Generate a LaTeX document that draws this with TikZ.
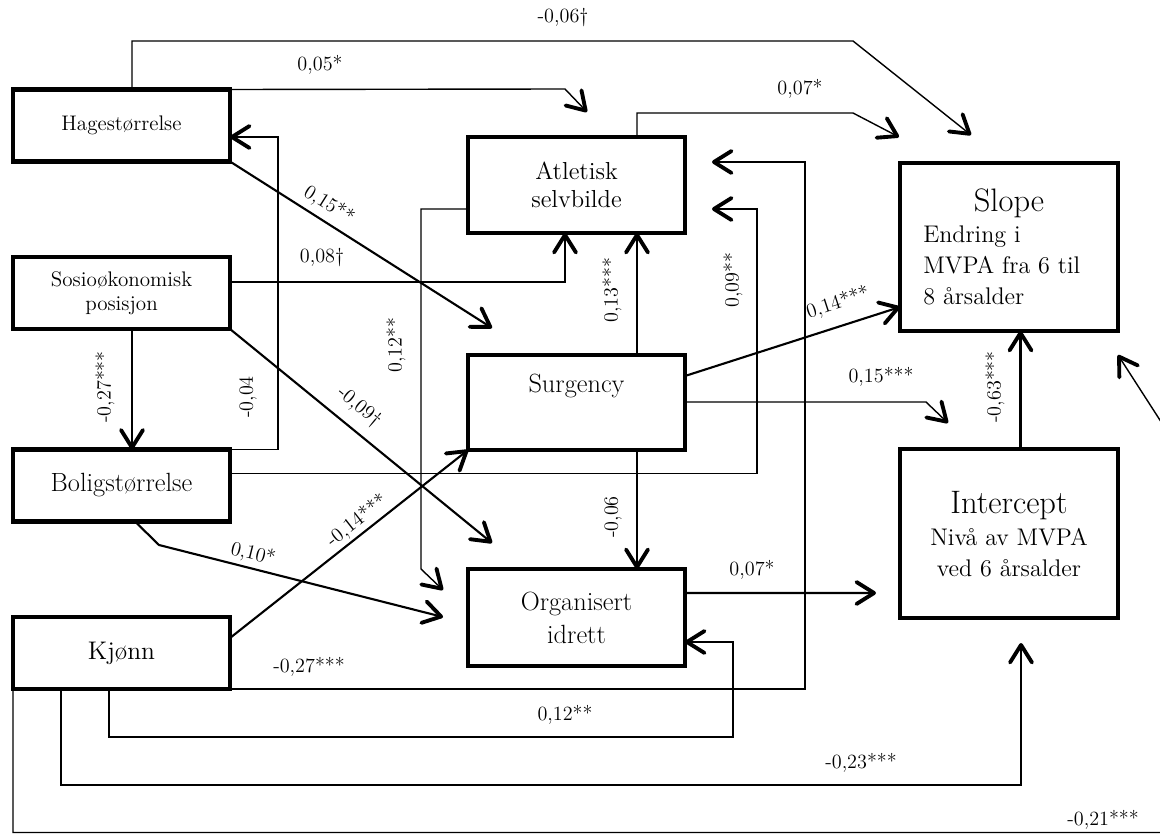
\documentclass[tikz,border=0pt]{standalone}
\usepackage{fontspec}
\usetikzlibrary{arrows.meta,calc}
\begin{document}
\begin{tikzpicture}[x=0.02cm,y=-0.02cm,
  box/.style={draw,line width=2.3pt,inner sep=0pt,outer sep=0pt,align=center},
  smallbox/.style={box,minimum width=4.34cm,minimum height=1.44cm,font=\fontsize{12}{13.7}\selectfont},
  midbox/.style={box,minimum width=4.34cm,minimum height=1.92cm,font=\fontsize{14.5}{17}\selectfont},
  bigbox/.style={box,minimum width=4.36cm,minimum height=3.36cm},
  conn/.style={line width=0.8pt,-{Straight Barb[length=10pt,width=12.5pt,line width=2.2pt,round]}},
  heavy/.style={conn,line width=1.2pt},
  lab/.style={font=\fontsize{11.5}{13}\selectfont,inner sep=0pt},
  boxtext/.style={inner sep=0pt,anchor=base},
  sub/.style={inner sep=0pt,font=\fontsize{13.7}{16}\selectfont},
  ttl/.style={inner sep=0pt,anchor=base,font=\fontsize{18.5}{20}\selectfont},
]
\useasboundingbox (0,0) rectangle (1160,834);

% ---- boxes ----
\node[smallbox] (hage)  at (121.5,125.5) {Hagestørrelse};
\node[smallbox] (sosio) at (121.5,293) {Sosioøkonomisk\\posisjon};
\node[smallbox,font=\fontsize{15}{17}\selectfont] (bolig) at (121.5,485.5) {Boligstørrelse};
\node[smallbox,font=\fontsize{14.5}{17}\selectfont] (kjonn) at (121.5,653) {Kjønn};
\node[midbox,font=\fontsize{14}{16}\selectfont] (atl) at (576.5,185) {Atletisk\\selvbilde};
\node[midbox,minimum height=1.90cm] (surg) at (576.5,402.5) {};
\node[boxtext,font=\fontsize{15}{17}\selectfont] (surgT) at (576.5,393) {Surgency};
\node[midbox,minimum height=1.94cm,font=\fontsize{15}{18.8}\selectfont] (org) at (576.5,617.5) {Organisert\\idrett};
\node[bigbox] (slope) at (1009,247) {};
\node[bigbox,minimum height=3.38cm] (icpt) at (1009,533.5) {};

\node[ttl] (slopeT) at (1009,212) {Slope};
\node[sub,anchor=base west] (slopeA) at (923,243) {Endring i};
\node[sub,anchor=base west] (slopeB) at (923,274) {MVPA fra 6 til};
\node[sub,anchor=base west] (slopeC) at (923,305) {8 årsalder};
\node[ttl] (icptT) at (1009,514) {Intercept};
\node[sub,anchor=base] (icptA) at (1009,545) {Nivå av MVPA};
\node[sub,anchor=base] (icptB) at (1009,576) {ved 6 årsalder};

% ---- free arrow ends ----
\coordinate (t1) at (971,135);
\coordinate (t2) at (587,112);
\coordinate (t3) at (899,137);
\coordinate (t4) at (948,423);
\coordinate (t5) at (876,593);
\coordinate (t6) at (492,328);
\coordinate (t7) at (492,543);
\coordinate (t8) at (443,590);
\coordinate (t9) at (712,209);
\coordinate (t10) at (712,162);
\coordinate (t11) at (443,617);
\coordinate (t12) at (1021,643);
\coordinate (t13) at (1118,355);

% ---- connectors ----
\draw[conn] ($(hage.north)+(10.5,0)$) |- (853,41) -- (t1);
\draw[conn] (hage.north east) -- (565,89) -- (t2);
\draw[conn] ($(atl.north)+(60.5,0)$) |- (853,113) -- (t3);
\draw[heavy] ($(surg.north)+(60.5,0)$) -- ($(atl.south)+(60.5,0)$);
\draw[heavy] ($(surg.south)+(60.5,0)$) -- ($(org.north)+(60.5,0)$);
\draw[heavy] ($(surg.north east)+(0,21)$) -- ($(slope.north west)+(0,144)$);
\draw[conn] ($(surg.north east)+(0,47)$) -- (926,402) -- (t4);
\draw[heavy] ($(org.north east)+(0,24)$) -- (t5);
\draw[heavy] ($(icpt.north)+(11.5,0)$) -- ($(slope.south)+(11.5,0)$);
\draw[heavy] ($(sosio.south)+(10.5,0)$) -- ($(bolig.north)+(10.5,0)$);
\draw[conn] (bolig.north east) -| ($(hage.east)+(48,11.5)$) -- ($(hage.east)+(0,11.5)$);
\draw[conn] ($(sosio.north east)+(0,25)$) -| ($(atl.south)+(-11.5,0)$);
\draw[heavy] (hage.south east) -- (t6);
\draw[heavy] (sosio.south east) -- (t7);
\draw[conn] ($(atl.south west)+(0,-24)$) -| (421,569) -- (t8);
\draw[conn] ($(bolig.north east)+(0,24)$) -| (757,209) -- (t9);
\draw[conn] (kjonn.south east) -| (805,162) -- (t10);
\draw[heavy] ($(kjonn.north east)+(0,21)$) -- (surg.south west);
\draw[heavy] ($(bolig.south)+(13.5,0)$) -- (159,545) -- (t11);
\draw[conn] ($(kjonn.south west)+(96,0)$) |- (733,737) |- ($(org.east)+(0,24.5)$);
\draw[conn] ($(kjonn.south west)+(48,0)$) |- (1021,785) -- (t12);
\draw[conn] (kjonn.south west) -- (13,832.5) -- (1185,832.5) -- (1185,459) -- (t13);

% ---- labels ----
\node[lab,anchor=base] (l1) at (563,23) {-0,06†};
\node[lab,anchor=base] (l2) at (320,71) {0,05*};
\node[lab,anchor=base] (l3) at (800,95) {0,07*};
\node[lab,anchor=base] (l4) at (322,263) {0,08†};
\node[lab,anchor=base] (l5) at (881,383) {0,15***};
\node[lab,anchor=base] (l6) at (752,575) {0,07*};
\node[lab,anchor=base] (l7) at (309,672) {-0,27***};
\node[lab,anchor=base] (l8) at (565,720) {0,12**};
\node[lab,anchor=base] (l9) at (861,768) {-0,23***};
\node[lab,anchor=base] (l10) at (1103,825) {-0,21***};
\node[lab,rotate=90] (l11) at (105,387) {-0,27***};
\node[lab,rotate=90] (l12) at (248,397) {-0,04};
\node[lab,rotate=90] (l13) at (396,345) {0,12**};
\node[lab,rotate=90] (l14) at (612,290) {0,13***};
\node[lab,rotate=90] (l15) at (733,280) {0,09**};
\node[lab,rotate=90] (l16) at (995,387) {-0,63***};
\node[lab,rotate=90] (l17) at (613,517) {-0,06};
\node[lab,rotate=-32] (l18) at (329,205) {0,15**};
\node[lab,rotate=-40] (l19) at (359,407) {-0,09†};
\node[lab,rotate=38] (l20) at (357,521) {-0,14***};
\node[lab,rotate=-14] (l21) at (253,554) {0,10*};
\node[lab,rotate=18] (l22) at (838,303) {0,14***};
\end{tikzpicture}
\end{document}
